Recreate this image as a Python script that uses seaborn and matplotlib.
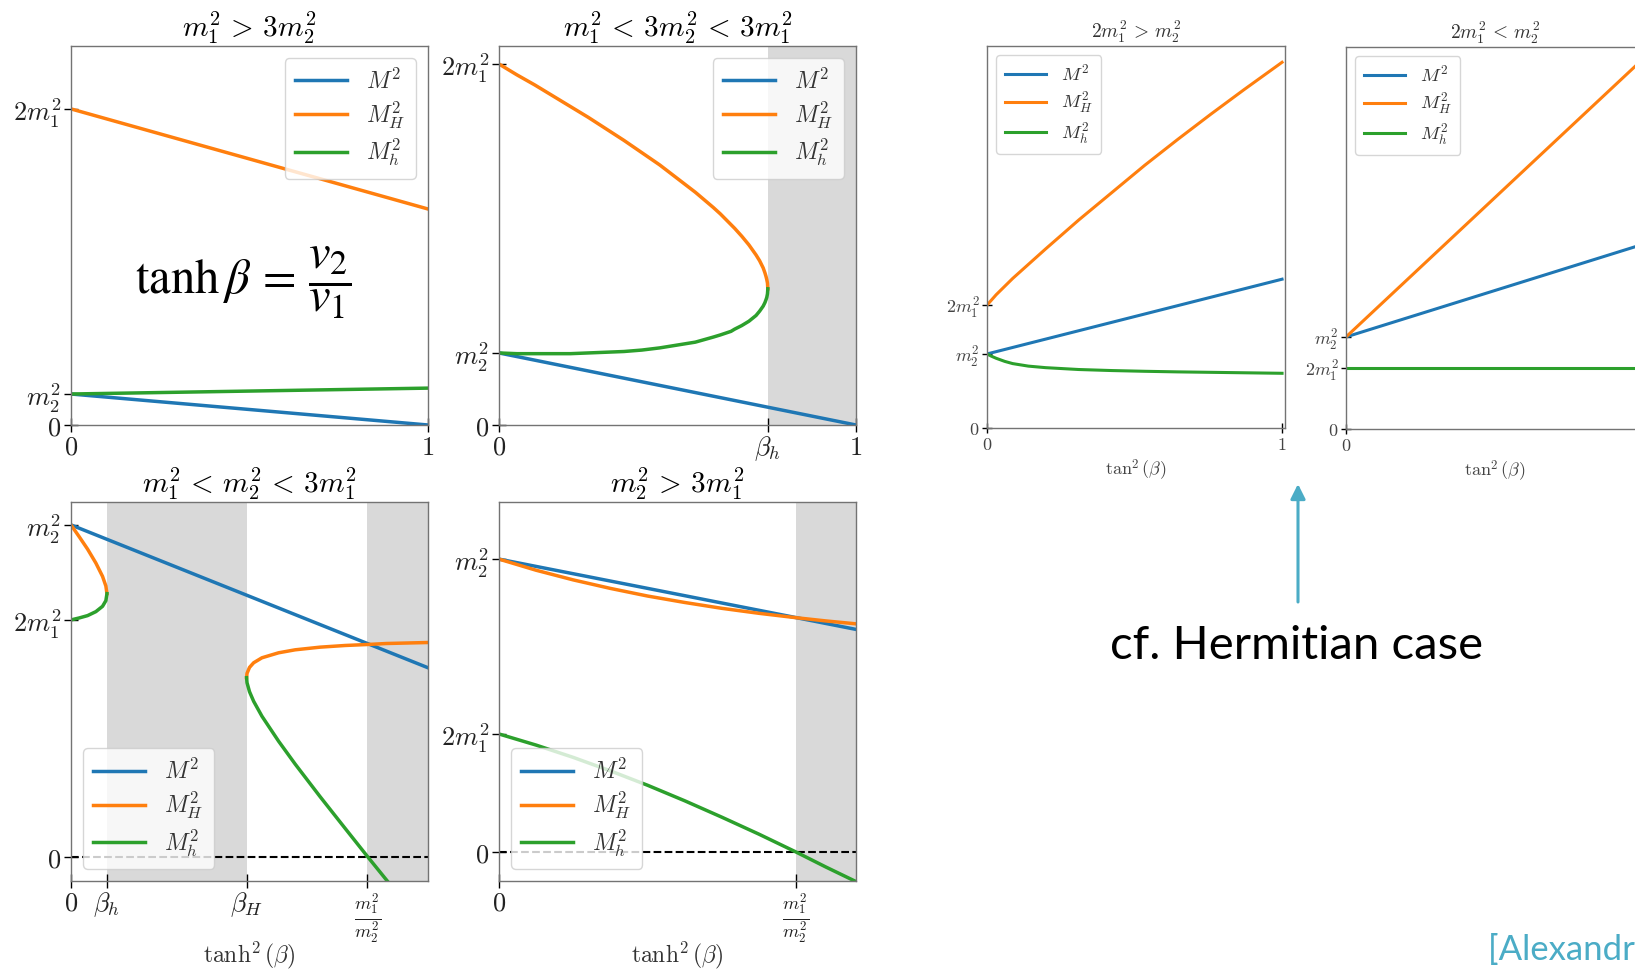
import matplotlib
matplotlib.use('Agg')
import matplotlib.pyplot as plt
import seaborn as sns

plt.rcParams['mathtext.fontset'] = 'cm'
plt.rcParams['font.family'] = ['DejaVu Serif']

BLUE, ORANGE, GREEN = '#1f77b4', '#ff7f0e', '#2ca02c'
SHADE = '#d9d9d9'
TEAL = '#4bacc6'

# all masses in units of m2^2, x is tanh^2(beta) (left) or tan^2(beta) (right)

# m1^2 > 3 m2^2
p1_x = [0, 1]
p1_M = [1.0, 0.0]
p1_MH = [10.2, 6.97]
p1_Mh = [1.0, 1.19]

# m1^2 < 3 m2^2 < 3 m1^2
p2_beta_h = 0.753
p2_xline = [0, 1]
p2_M = [1.0, 0.0]
p2_x = [0, .05, .1, .15, .2, .25, .3, .35, .4, .45, .5, .55, .6, .62, .65, .66, .68, .7,
        .71, .72, .73, .74, .745, .748, .75, .752, .753]
p2_MH = [5.01, 4.86, 4.72, 4.57, 4.42, 4.27, 4.11, 3.95, 3.78, 3.61, 3.42, 3.23, 3.02, 2.93,
         2.78, 2.73, 2.62, 2.50, 2.43, 2.36, 2.28, 2.18, 2.11, 2.06, 2.02, 1.97, 1.89]
p2_Mh = [1.00, 0.99, 0.99, 0.99, 0.99, 1.00, 1.01, 1.02, 1.04, 1.07, 1.11, 1.15, 1.22, 1.25,
         1.30, 1.33, 1.38, 1.44, 1.48, 1.52, 1.58, 1.65, 1.70, 1.74, 1.77, 1.82, 1.89]

# m1^2 < m2^2 < 3 m1^2
p3_beta_h, p3_beta_H, p3_ratio, p3_xmax = 0.0433, 0.2115, 0.357, 0.43
p3_xline = [0, 0.43]
p3_M = [1.0, 0.57]
p3a_x = [0, 0.01, 0.02, 0.03, 0.038, 0.042, 0.0433]
p3a_MH = [1.0, 0.964, 0.927, 0.885, 0.845, 0.816, 0.793]
p3a_Mh = [0.714, 0.720, 0.727, 0.739, 0.755, 0.772, 0.793]
p3b_x = [0.2115, 0.212, 0.215, 0.22, 0.23, 0.25, 0.27, 0.30, 0.33, 0.357, 0.38, 0.43]
p3b_MH = [0.54, 0.553, 0.571, 0.585, 0.600, 0.615, 0.624, 0.632, 0.637, 0.640, 0.643, 0.646]
p3b_Mh = [0.54, 0.525, 0.498, 0.469, 0.424, 0.349, 0.280, 0.182, 0.087, 0.002, -0.069, -0.222]

# m2^2 > 3 m1^2
p4_ratio, p4_xmax = 0.2, 0.2404
p4_xline = [0, 0.2404]
p4_M = [1.0, 0.76]
p4_x = [0, 0.025, 0.05, 0.075, 0.1, 0.125, 0.15, 0.175, 0.2, 0.22, 0.2404]
p4_MH = [1.0, 0.962, 0.929, 0.900, 0.874, 0.852, 0.832, 0.815, 0.800, 0.789, 0.779]
p4_Mh = [0.403, 0.365, 0.323, 0.277, 0.228, 0.175, 0.119, 0.061, 0.0, -0.051, -0.101]

# Hermitian, 2 m1^2 > m2^2
p5_xline = [0, 1]
p5_M = [1.0, 2.01]
p5_x = [0, 0.031, 0.087, 0.199, 0.311, 0.423, 0.535, 0.647, 0.759, 0.871, 1.0]
p5_MH = [1.66, 1.80, 2.02, 2.42, 2.81, 3.18, 3.55, 3.90, 4.24, 4.57, 4.94]
p5_hx = [0, 0.015, 0.031, 0.06, 0.087, 0.14, 0.199, 0.311, 0.423, 0.535, 0.647, 0.759, 0.871, 1.0]
p5_Mh = [1.0, 0.97, 0.942, 0.90, 0.870, 0.836, 0.815, 0.790, 0.776, 0.766, 0.758, 0.752, 0.746, 0.739]

# Hermitian, 2 m1^2 < m2^2
p6_x = [0, 1]
p6_M = [1.0, 2.0]
p6_MH = [1.0, 4.0]
p6_Mh = [0.663, 0.663]

W, H = 1635, 971
fig = plt.figure(figsize=(W / 100, H / 100), dpi=100)


def box(l, t, w, h):
    return fig.add_axes([l / W, 1 - (t + h) / H, w / W, h / H])


def line(ax, x, y, c, label=None, lw=2.5):
    sns.lineplot(x=x, y=y, ax=ax, color=c, lw=lw, sort=False, estimator=None, label=label)


def style(ax, xt, xl, yt, yl, big=True):
    ax.set_xticks(xt)
    ax.set_xticklabels(xl)
    ax.set_yticks(yt)
    ax.set_yticklabels(yl)
    fs = 19 if big else 13
    col = '#222222' if big else '#444444'
    ax.tick_params(direction='inout', length=10 if big else 7, width=1, labelsize=fs,
                   labelcolor=col, pad=2)
    for s in ax.spines.values():
        s.set_color('0.45')
        s.set_linewidth(1)


def leg(ax, loc, big=True):
    ax.legend(loc=loc, fontsize=17 if big else 13.5, labelcolor='#333333',
              labelspacing=0.25, borderpad=0.45, handlelength=2.2)


tk = [r'$0$', r'$1$']

# panel 1
ax1 = box(71, 46, 357, 379)
line(ax1, p1_x, p1_M, BLUE, r'$M^2$')
line(ax1, p1_x, p1_MH, ORANGE, r'$M_H^2$')
line(ax1, p1_x, p1_Mh, GREEN, r'$M_h^2$')
ax1.set_xlim(0, 1)
ax1.set_ylim(0, 12.23)
style(ax1, [0, 1], tk, [0, 1, 10.2], [r'$0$', r'$m_2^2$', r'$2m_1^2$'])
ax1.set_title(r'$m_1^2 \,>\, 3m_2^2$', fontsize=21)
leg(ax1, 'upper right')

# panel 2
ax2 = box(499, 46, 357, 379)
ax2.axvspan(p2_beta_h, 1, color=SHADE, lw=0, zorder=0)
line(ax2, p2_xline, p2_M, BLUE, r'$M^2$')
line(ax2, p2_x, p2_MH, ORANGE, r'$M_H^2$')
line(ax2, p2_x, p2_Mh, GREEN, r'$M_h^2$')
ax2.set_xlim(0, 1)
ax2.set_ylim(0, 5.26)
style(ax2, [0, p2_beta_h, 1], [r'$0$', r'$\beta_h$', r'$1$'], [0, 1, 5.01],
      [r'$0$', r'$m_2^2$', r'$2m_1^2$'])
ax2.set_title(r'$m_1^2 \,<\, 3m_2^2 \,<\, 3m_1^2$', fontsize=21)
leg(ax2, 'upper right')

# panel 3
ax3 = box(71, 502, 357, 379)
ax3.axvspan(p3_beta_h, p3_beta_H, color=SHADE, lw=0, zorder=0)
ax3.axvspan(p3_ratio, p3_xmax, color=SHADE, lw=0, zorder=0)
ax3.axhline(0, color='black', ls='--', lw=1.5, zorder=1)
line(ax3, p3_xline, p3_M, BLUE, r'$M^2$')
line(ax3, p3a_x, p3a_MH, ORANGE, r'$M_H^2$')
line(ax3, p3a_x, p3a_Mh, GREEN, r'$M_h^2$')
line(ax3, p3b_x, p3b_MH, ORANGE)
line(ax3, p3b_x, p3b_Mh, GREEN)
ax3.set_xlim(0, p3_xmax)
ax3.set_ylim(-0.072, 1.069)
style(ax3, [0, p3_beta_h, p3_beta_H, p3_ratio],
      [r'$0$', r'$\beta_h$', r'$\beta_H$', r'$\frac{m_1^2}{m_2^2}$'],
      [0, 0.714, 1], [r'$0$', r'$2m_1^2$', r'$m_2^2$'])
ax3.set_title(r'$m_1^2 \,<\, m_2^2 \,<\, 3m_1^2$', fontsize=21)
ax3.set_xlabel(r'$\tanh^2(\beta)$', fontsize=17, color='#333333')
ax3.xaxis.set_label_coords(0.5, -0.155)
leg(ax3, 'lower left')

# panel 4
ax4 = box(499, 502, 357, 379)
ax4.axvspan(p4_ratio, p4_xmax, color=SHADE, lw=0, zorder=0)
ax4.axhline(0, color='black', ls='--', lw=1.5, zorder=1)
line(ax4, p4_xline, p4_M, BLUE, r'$M^2$')
line(ax4, p4_x, p4_MH, ORANGE, r'$M_H^2$')
line(ax4, p4_x, p4_Mh, GREEN, r'$M_h^2$')
ax4.set_xlim(0, p4_xmax)
ax4.set_ylim(-0.099, 1.195)
style(ax4, [0, p4_ratio], [r'$0$', r'$\frac{m_1^2}{m_2^2}$'],
      [0, 0.403, 1], [r'$0$', r'$2m_1^2$', r'$m_2^2$'])
ax4.set_title(r'$m_2^2 \,>\, 3m_1^2$', fontsize=21)
ax4.set_xlabel(r'$\tanh^2(\beta)$', fontsize=17, color='#333333')
ax4.xaxis.set_label_coords(0.5, -0.155)
leg(ax4, 'lower left')

# panel 5
ax5 = box(987, 46, 298, 382)
line(ax5, p5_xline, p5_M, BLUE, r'$M^2$', lw=2.2)
line(ax5, p5_x, p5_MH, ORANGE, r'$M_H^2$', lw=2.2)
line(ax5, p5_hx, p5_Mh, GREEN, r'$M_h^2$', lw=2.2)
ax5.set_xlim(0, 1.01)
ax5.set_ylim(0, 5.16)
style(ax5, [0, 1], tk, [0, 1, 1.66], [r'$0$', r'$m_2^2$', r'$2m_1^2$'], big=False)
ax5.set_title(r'$2m_1^2 \,>\, m_2^2$', fontsize=14, color='#333333')
ax5.set_xlabel(r'$\tan^2(\beta)$', fontsize=13, color='#444444')
ax5.xaxis.set_label_coords(0.5, -0.078)
leg(ax5, 'upper left', big=False)

# panel 6
ax6 = box(1346, 47, 298, 382)
line(ax6, p6_x, p6_M, BLUE, r'$M^2$', lw=2.2)
line(ax6, p6_x, p6_MH, ORANGE, r'$M_H^2$', lw=2.2)
line(ax6, p6_x, p6_Mh, GREEN, r'$M_h^2$', lw=2.2)
ax6.set_xlim(0, 1.01)
ax6.set_ylim(0, 4.15)
style(ax6, [0, 1], tk, [0, 0.663, 1], [r'$0$', r'$2m_1^2$', r'$m_2^2$'], big=False)
ax6.set_title(r'$2m_1^2 \,<\, m_2^2$', fontsize=14, color='#333333')
ax6.set_xlabel(r'$\tan^2(\beta)$', fontsize=13, color='#444444')
ax6.xaxis.set_label_coords(0.5, -0.078)
leg(ax6, 'upper left', big=False)

# slide annotations
fig.text(243 / W, 1 - 283 / H, r'$\mathrm{tanh}\,\beta\, =\, \dfrac{v_2}{v_1}$',
         fontsize=35, ha='center', va='center', math_fontfamily='stix')
fig.text(1297 / W, 1 - 646 / H, 'cf. Hermitian case', fontsize=34, family='Lato',
         ha='center', va='center')
fig.text(1488 / W, 1 - 960 / H, '[Alexandre et al.]', fontsize=25, family='Lato',
         color=TEAL, ha='left', va='baseline')
fig.add_artist(plt.Annotation('', xy=(1298 / W, 1 - 484 / H), xytext=(1298 / W, 1 - 602 / H),
                              xycoords='figure fraction',
                              arrowprops=dict(arrowstyle='-|>', color=TEAL, lw=2.2,
                                              mutation_scale=22, shrinkA=0, shrinkB=0)))

fig.savefig('out.png', dpi=100)
